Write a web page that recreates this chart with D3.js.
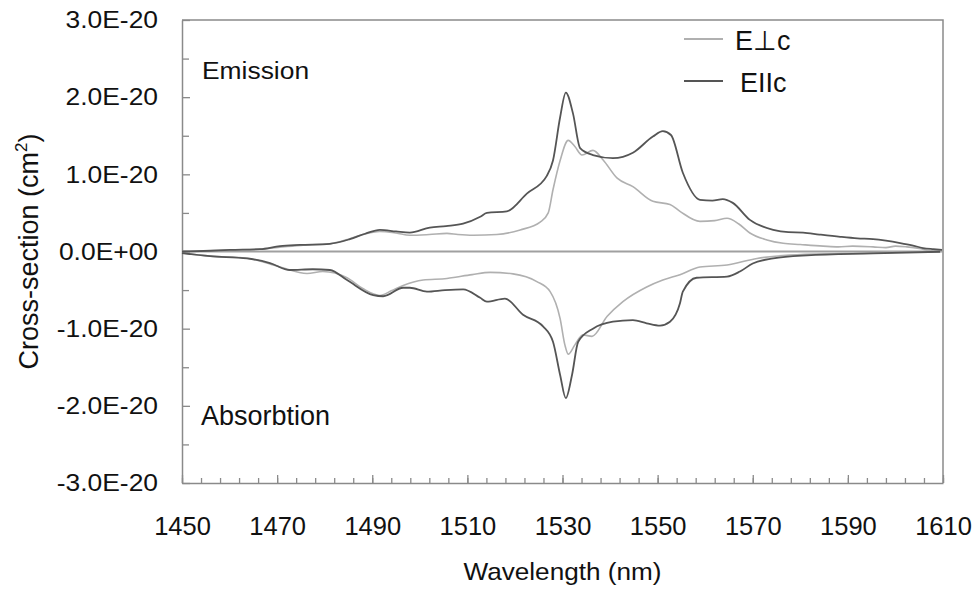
<!DOCTYPE html>
<html>
<head>
<meta charset="utf-8">
<script src="https://cdn.jsdelivr.net/npm/d3@7"></script>
<style>
  html, body { margin: 0; padding: 0; background: #fff; }
  svg { display: block; font-family: "Liberation Sans", Arial, sans-serif; }
</style>
</head>
<body>
<svg id="chart" width="976" height="589"></svg>
<script>
// values in units of 1E-20 cm^2
const emissionPerp = [
  [1450, 0.00], [1456, 0.01], [1460, 0.02], [1466, 0.03], [1471, 0.06], [1475, 0.08],
  [1481, 0.10], [1485, 0.16], [1488, 0.22], [1491.6, 0.26], [1495, 0.24], [1497.9, 0.21],
  [1502, 0.22], [1505.7, 0.235], [1508, 0.22], [1511.2, 0.21], [1516.2, 0.22], [1521.1, 0.28],
  [1525.3, 0.38], [1527.0, 0.50], [1528.0, 0.80], [1529.5, 1.18], [1531.2, 1.44], [1532.6, 1.36],
  [1534.1, 1.25], [1536.4, 1.31], [1538.5, 1.19], [1541.5, 0.95], [1544.8, 0.84], [1549.0, 0.65],
  [1552.6, 0.61], [1554.7, 0.52], [1558.9, 0.39], [1562, 0.40], [1564.6, 0.43], [1567, 0.36],
  [1569.4, 0.24], [1573, 0.15], [1576.4, 0.106], [1580, 0.09], [1584.8, 0.07], [1588, 0.06],
  [1591, 0.07], [1595.3, 0.06], [1598, 0.05], [1600, 0.07], [1602.4, 0.06], [1605, 0.04],
  [1607.3, 0.01], [1609.8, 0.01]
];
const emissionPar = [
  [1450, 0.00], [1456, 0.01], [1460.1, 0.02], [1466.4, 0.03], [1470.6, 0.07], [1474.8, 0.085],
  [1481.1, 0.10], [1485.3, 0.16], [1488.5, 0.23], [1491.6, 0.28], [1495, 0.26], [1497.9, 0.245],
  [1502.1, 0.31], [1505.5, 0.33], [1509.1, 0.36], [1512.7, 0.45], [1514.1, 0.50], [1518.3, 0.52],
  [1522.5, 0.75], [1526.7, 0.98], [1528.0, 1.18], [1529.5, 1.74], [1530.7, 2.06], [1532.2, 1.79],
  [1533.7, 1.34], [1536.4, 1.25], [1540.6, 1.21], [1544.8, 1.28], [1549.0, 1.49], [1551.1, 1.56],
  [1552.8, 1.51], [1555.3, 1.02], [1558.9, 0.67], [1561.5, 0.66], [1563.7, 0.68], [1565.8, 0.63],
  [1569.4, 0.41], [1574.3, 0.28], [1577.5, 0.25], [1580.6, 0.245], [1584, 0.22], [1588.4, 0.19],
  [1592, 0.17], [1595.3, 0.16], [1598, 0.14], [1601.0, 0.11], [1603.5, 0.08], [1605.8, 0.045],
  [1608, 0.03], [1609.8, 0.02]
];
const absorptionPerp = [
  [1450, -0.02], [1456, -0.06], [1464, -0.09], [1470.6, -0.20], [1476.3, -0.285], [1479.6, -0.26],
  [1484.7, -0.34], [1488, -0.48], [1491.6, -0.57], [1494, -0.51], [1496.5, -0.44], [1500.7, -0.37],
  [1505.7, -0.35], [1507.8, -0.33], [1511, -0.30], [1514.8, -0.27], [1519.6, -0.29], [1524.6, -0.39],
  [1527.4, -0.52], [1529.5, -0.87], [1530.5, -1.21], [1531.2, -1.33], [1532.6, -1.21], [1534.3, -1.08],
  [1536.2, -1.10], [1539.4, -0.84], [1542.7, -0.65], [1547.7, -0.46], [1551.1, -0.37], [1554.7, -0.30],
  [1558.9, -0.20], [1564.6, -0.175], [1570.9, -0.09], [1577.8, -0.045], [1588.4, -0.025], [1600, -0.01],
  [1609.4, 0.00]
];
const absorptionPar = [
  [1450, -0.02], [1455.9, -0.06], [1463.7, -0.09], [1468.5, -0.15], [1472.7, -0.24], [1477.5, -0.23],
  [1481.1, -0.24], [1484.7, -0.37], [1490.2, -0.565], [1492.3, -0.58], [1496.5, -0.47], [1497.9, -0.47],
  [1501.5, -0.52], [1505.3, -0.50], [1509.1, -0.49], [1512.7, -0.60], [1514.1, -0.65], [1517.9, -0.61],
  [1521.7, -0.82], [1525.9, -0.97], [1528.0, -1.17], [1529.5, -1.60], [1530.7, -1.90], [1532.0, -1.60],
  [1533.3, -1.17], [1536.4, -1.00], [1540.6, -0.91], [1544.8, -0.89], [1547.7, -0.93], [1550.5, -0.96],
  [1552.6, -0.91], [1554.7, -0.67], [1555.3, -0.52], [1558.2, -0.34], [1564.6, -0.325], [1567.3, -0.26],
  [1570.0, -0.155], [1574.3, -0.09], [1581.4, -0.05], [1595.3, -0.025], [1609.4, -0.003]
];

const xTicks = [1450, 1470, 1490, 1510, 1530, 1550, 1570, 1590, 1610];
const yTicks = [-3, -2, -1, 0, 1, 2, 3];
const yTickLabels = ["-3.0E-20", "-2.0E-20", "-1.0E-20", "0.0E+00", "1.0E-20", "2.0E-20", "3.0E-20"];
const legendNames = ["E\u22a5c", "EIIc"];

const W = 976, H = 589;
const margin = { top: 20, right: 33, bottom: 106, left: 182 };
const width = W - margin.left - margin.right;
const height = H - margin.top - margin.bottom;

const axisColor = "#8a8a8a";
const lightColor = "#b0b0b0";
const darkColor = "#555555";
const stretch = 1.1; // reference lettering is a bit wide

const svg = d3.select("#chart");
const g = svg.append("g").attr("transform", `translate(${margin.left},${margin.top})`);

const x = d3.scaleLinear().domain([1450, 1610]).range([0, width]);
const y = d3.scaleLinear().domain([-3, 3]).range([height, 0]);

// frame (top + right)
g.append("path")
  .attr("d", `M0,0H${width}V${height}`)
  .attr("fill", "none")
  .attr("stroke", axisColor)
  .attr("stroke-width", 1.5);

// minor ticks
g.append("g")
  .attr("transform", `translate(0,${height})`)
  .call(d3.axisBottom(x).tickValues(d3.range(1450, 1611, 4)).tickSize(-5).tickFormat(""))
  .call(a => a.select(".domain").remove())
  .call(a => a.selectAll("line").attr("stroke", axisColor).attr("stroke-width", 1.3));

g.append("g")
  .call(d3.axisLeft(y).tickValues(d3.range(-2.5, 3, 1)).tickSize(-7).tickFormat(""))
  .call(a => a.select(".domain").remove())
  .call(a => a.selectAll("line").attr("stroke", axisColor).attr("stroke-width", 1.3));

// major axes
const xAxis = g.append("g")
  .attr("transform", `translate(0,${height})`)
  .call(d3.axisBottom(x).tickValues(xTicks).tickSize(-8).tickSizeOuter(0).tickPadding(34).tickFormat(d3.format("d")));

const yAxis = g.append("g")
  .call(d3.axisLeft(y).tickValues(yTicks).tickSize(-8).tickSizeOuter(0).tickPadding(24)
    .tickFormat((d, i) => yTickLabels[i]));

[xAxis, yAxis].forEach(a => {
  a.select(".domain").attr("stroke", axisColor).attr("stroke-width", 1.5);
  a.selectAll(".tick line").attr("stroke", axisColor).attr("stroke-width", 1.3);
  a.selectAll(".tick text").attr("fill", "#111");
});
xAxis.selectAll(".tick text").style("font-size", "25.5px");
yAxis.selectAll(".tick text")
  .style("font-size", "24px")
  .attr("x", -24 / stretch)
  .attr("transform", `scale(${stretch},1)`);

// zero line
g.append("line")
  .attr("x1", 0).attr("x2", width)
  .attr("y1", y(0)).attr("y2", y(0))
  .attr("stroke", "#a0a0a0")
  .attr("stroke-width", 2);

const line = d3.line()
  .x(d => x(d[0]))
  .y(d => y(d[1]))
  .curve(d3.curveMonotoneX);

const series = [
  { data: emissionPerp, color: lightColor, w: 1.6 },
  { data: absorptionPerp, color: lightColor, w: 1.6 },
  { data: emissionPar, color: darkColor, w: 1.8 },
  { data: absorptionPar, color: darkColor, w: 1.8 }
];

g.selectAll("path.series")
  .data(series)
  .join("path")
  .attr("class", "series")
  .attr("fill", "none")
  .attr("stroke", d => d.color)
  .attr("stroke-width", d => d.w)
  .attr("stroke-linejoin", "round")
  .attr("d", d => line(d.data));

// annotations
g.append("text")
  .attr("transform", `translate(20,59) scale(${stretch},1)`)
  .style("font-size", "24px")
  .attr("fill", "#111")
  .text("Emission");

g.append("text")
  .attr("x", 19).attr("y", 404.5)
  .style("font-size", "27px")
  .attr("fill", "#111")
  .text("Absorbtion");

// legend
const legend = g.append("g").attr("transform", "translate(502,19)");
[lightColor, darkColor].forEach((c, i) => {
  const row = legend.append("g").attr("transform", `translate(0,${i * 42})`);
  row.append("line")
    .attr("x1", 0).attr("x2", 39)
    .attr("stroke", c)
    .attr("stroke-width", 1.8);
  row.append("text")
    .attr("x", i === 0 ? 51 : 56)
    .attr("y", 11)
    .style("font-size", "27px")
    .attr("fill", "#111")
    .text(legendNames[i]);
});

// axis titles
svg.append("text")
  .attr("transform", `translate(${margin.left + width / 2},580) scale(1.09,1)`)
  .attr("text-anchor", "middle")
  .style("font-size", "24px")
  .attr("fill", "#111")
  .text("Wavelength (nm)");

const yTitle = svg.append("text")
  .attr("transform", `translate(38,${margin.top + height / 2}) rotate(-90)`)
  .attr("text-anchor", "middle")
  .style("font-size", "27px")
  .attr("fill", "#111");
yTitle.append("tspan").text("Cross-section (cm");
yTitle.append("tspan").attr("dy", -11).style("font-size", "17px").text("2");
yTitle.append("tspan").attr("dy", 11).text(")");
</script>
</body>
</html>
